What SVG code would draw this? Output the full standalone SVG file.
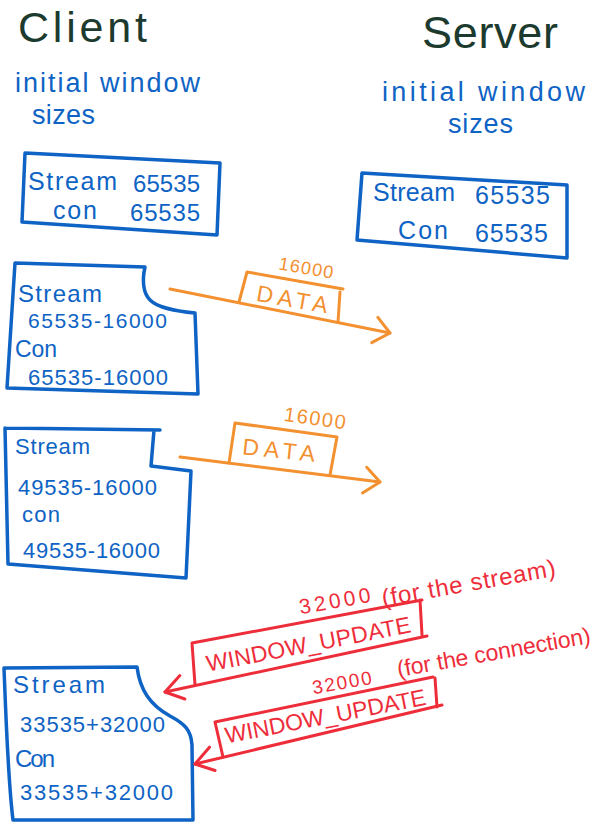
<svg xmlns="http://www.w3.org/2000/svg" width="604" height="835" viewBox="0 0 604 835">
<style>
  text { font-family: "Liberation Sans", Arial, sans-serif; }
  .title { fill: #1c3a2e; }
  .blue { fill: #0e63c4; }
  .lbl { font-size: 27px; }
  .bx { fill: none; stroke: #0e63c4; stroke-width: 3.5; stroke-linejoin: round; stroke-linecap: round; }
  .bt { fill: #0e63c4; }
  .or { fill: none; stroke: #f39030; stroke-width: 3; stroke-linejoin: round; stroke-linecap: round; }
  .ort { fill: #f39030; }
  .rd { fill: none; stroke: #ee2d3a; stroke-width: 3; stroke-linejoin: round; stroke-linecap: round; }
  .rdt { fill: #ee2d3a; }
</style>
<defs>
  <marker id="headO" markerUnits="userSpaceOnUse" viewBox="-20 -16 24 32" markerWidth="24" markerHeight="32" refX="0" refY="0" orient="auto">
    <path d="M-15,-13 L0,0 L-16,13" fill="none" stroke="#f39030" stroke-width="3" stroke-linecap="round" stroke-linejoin="round"/>
  </marker>
  <marker id="headR" markerUnits="userSpaceOnUse" viewBox="-22 -16 26 32" markerWidth="26" markerHeight="32" refX="0" refY="0" orient="auto">
    <path d="M-18,-11 L0,0 L-18,13" fill="none" stroke="#ee2d3a" stroke-width="3" stroke-linecap="round" stroke-linejoin="round"/>
  </marker>
</defs>
<rect width="604" height="835" fill="#ffffff"/>

<g id="title-client">
  <text class="title" x="18" y="42" font-size="43" textLength="129" lengthAdjust="spacing">Client</text>
</g>
<g id="title-server">
  <text class="title" x="422" y="48" font-size="45" textLength="136" lengthAdjust="spacing">Server</text>
</g>

<g id="label-client">
  <text class="blue lbl" x="15" y="92" textLength="185" lengthAdjust="spacing">initial window</text>
  <text class="blue lbl" x="32" y="124" textLength="63" lengthAdjust="spacing">sizes</text>
</g>
<g id="label-server">
  <text class="blue lbl" x="382" y="101" textLength="203" lengthAdjust="spacing">initial window</text>
  <text class="blue lbl" x="448" y="133" textLength="65" lengthAdjust="spacing">sizes</text>
</g>

<g id="box-client-initial">
  <path class="bx" d="M25,153 L220,163 L217,235 L22,222 Z"/>
  <text class="bt" x="28" y="190" font-size="25" textLength="89" lengthAdjust="spacing">Stream</text>
  <text class="bt" x="133" y="192" font-size="24" textLength="67" lengthAdjust="spacing">65535</text>
  <text class="bt" x="53" y="219" font-size="25" textLength="44" lengthAdjust="spacing">con</text>
  <text class="bt" x="130" y="221" font-size="24" textLength="70" lengthAdjust="spacing">65535</text>
</g>

<g id="box-server-initial">
  <path class="bx" d="M362,173 L567,185 L567,258 L357,240 Z"/>
  <text class="bt" x="373" y="201" font-size="25" textLength="82" lengthAdjust="spacing">Stream</text>
  <text class="bt" x="475" y="204" font-size="25" textLength="75" lengthAdjust="spacing">65535</text>
  <text class="bt" x="398" y="239" font-size="25" textLength="50" lengthAdjust="spacing">Con</text>
  <text class="bt" x="475" y="242" font-size="25" textLength="73" lengthAdjust="spacing">65535</text>
</g>

<g id="box-client-after-data-1">
  <path class="bx" d="M15,263 L145,267 C142,280 143,293 150,300 C158,308 175,311 195,313 L198,394 L7,388 Z"/>
  <text class="bt" x="18" y="302" font-size="24" textLength="84" lengthAdjust="spacing">Stream</text>
  <text class="bt" x="28" y="328" font-size="21" textLength="139" lengthAdjust="spacing">65535-16000</text>
  <text class="bt" x="15" y="357" font-size="23" textLength="42" lengthAdjust="spacing">Con</text>
  <text class="bt" x="28" y="385" font-size="22" textLength="140" lengthAdjust="spacing">65535-16000</text>
</g>

<g id="box-client-after-data-2">
  <path class="bx" d="M5,428 L160,430 M154,430 L151,466 L191,471 L186,578 L8,564 L5,428"/>
  <text class="bt" x="15" y="454" font-size="22" textLength="75" lengthAdjust="spacing">Stream</text>
  <text class="bt" x="18" y="495" font-size="22" textLength="139" lengthAdjust="spacing">49535-16000</text>
  <text class="bt" x="22" y="522" font-size="22" textLength="38" lengthAdjust="spacing">con</text>
  <text class="bt" x="23" y="558" font-size="22" textLength="137" lengthAdjust="spacing">49535-16000</text>
</g>

<g id="box-client-after-update">
  <path class="bx" d="M4,668 L137,667 C140,690 150,705 170,716 C185,724 191,730 192,745 L193,820 L13,820 C8,780 6,720 4,668 Z"/>
  <text class="bt" x="13" y="693" font-size="24" textLength="92" lengthAdjust="spacing">Stream</text>
  <text class="bt" x="20" y="732" font-size="22" textLength="145" lengthAdjust="spacing">33535+32000</text>
  <text class="bt" x="15" y="767" font-size="24" textLength="40" lengthAdjust="spacing">Con</text>
  <text class="bt" x="20" y="800" font-size="22" textLength="153" lengthAdjust="spacing">33535+32000</text>
</g>

<g id="connectors">
  <path class="or" d="M170,289 L390,333" marker-end="url(#headO)"/>
  <path class="or" d="M180,457 L380,482" marker-end="url(#headO)"/>
  <path class="rd" d="M427,636 L165,692" marker-end="url(#headR)"/>
  <path class="rd" d="M442,705 L195,764" marker-end="url(#headR)"/>
</g>

<g id="frame-data-1">
  <path class="or" d="M239,302 L247,272 L343,289 M340,292 L338,322"/>
  <text class="ort" font-size="23" text-anchor="middle" textLength="72" lengthAdjust="spacing" transform="translate(291,307) rotate(10)">DATA</text>
  <text class="ort" font-size="18" text-anchor="middle" textLength="55" lengthAdjust="spacing" transform="translate(305,274) rotate(10)">16000</text>
</g>

<g id="frame-data-2">
  <path class="or" d="M229,463 L235,423 L337,437 L330,475"/>
  <text class="ort" font-size="23" text-anchor="middle" textLength="73" lengthAdjust="spacing" transform="translate(278,458) rotate(6)">DATA</text>
  <text class="ort" font-size="20" text-anchor="middle" textLength="62" lengthAdjust="spacing" transform="translate(314,425) rotate(8)">16000</text>
</g>

<g id="frame-window-update-1">
  <path class="rd" d="M195,685 L192,643 L422,600 M420,600 L422,635"/>
  <text class="rdt" font-size="23" text-anchor="middle" textLength="208" lengthAdjust="spacing" transform="translate(310,652) rotate(-11)">WINDOW_UPDATE</text>
  <text class="rdt" font-size="21" text-anchor="middle" textLength="72" lengthAdjust="spacing" transform="translate(336,608) rotate(-10)">32000</text>
  <text class="rdt" font-size="24" text-anchor="middle" textLength="176" lengthAdjust="spacing" transform="translate(470,591) rotate(-10)">(for the stream)</text>
</g>

<g id="frame-window-update-2">
  <path class="rd" d="M223,757 L215,722 L433,677 M435,678 L437,707"/>
  <text class="rdt" font-size="23" text-anchor="middle" textLength="204" lengthAdjust="spacing" transform="translate(327,724) rotate(-11)">WINDOW_UPDATE</text>
  <text class="rdt" font-size="19" text-anchor="middle" textLength="60" lengthAdjust="spacing" transform="translate(343,689) rotate(-10)">32000</text>
  <text class="rdt" font-size="23" text-anchor="middle" textLength="196" lengthAdjust="spacing" transform="translate(495,660) rotate(-10)">(for the connection)</text>
</g>
</svg>
